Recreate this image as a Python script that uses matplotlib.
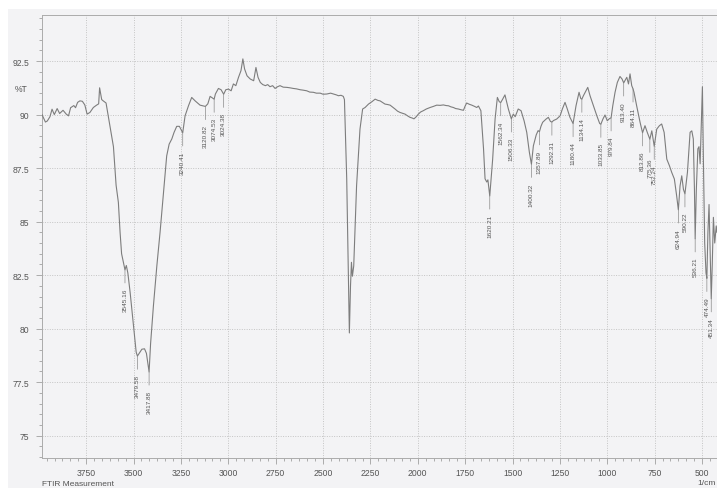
"""FTIR transmittance spectrum with labelled absorption peaks."""

import matplotlib

matplotlib.use("Agg")

import matplotlib.pyplot as plt
import numpy as np
from matplotlib.patches import Rectangle
from matplotlib.ticker import MultipleLocator


# spectrum, wavenumber (1/cm) against %T
wavenumber = [
    3983, 3965, 3955, 3941, 3930, 3918, 3903, 3890, 3872, 3855, 3843, 3832,
    3815, 3806, 3795, 3783, 3770, 3757, 3745, 3730, 3712, 3695, 3684, 3679,
    3668, 3660, 3645, 3625, 3606, 3592, 3580, 3571, 3563, 3556, 3545.16, 3538,
    3530, 3518, 3500, 3486, 3479.58, 3470, 3456, 3442, 3432, 3417.88, 3410,
    3395, 3377, 3360, 3342, 3325, 3312, 3298, 3286, 3272, 3258, 3240.41, 3228,
    3210, 3193, 3175, 3149, 3120.82, 3108, 3096, 3074.53, 3068, 3052, 3038,
    3024.38, 3013, 2999, 2985, 2973, 2960, 2946, 2933, 2923, 2914, 2901, 2884,
    2866, 2854, 2843, 2831, 2818, 2804, 2792, 2780, 2766, 2753, 2740, 2727,
    2710, 2691, 2675, 2657, 2640, 2621, 2605, 2586, 2570, 2551, 2535, 2515,
    2500, 2480, 2460, 2445, 2430, 2419, 2405, 2393, 2387, 2375, 2366, 2361,
    2355, 2350, 2345, 2338, 2323, 2305, 2291, 2278, 2260, 2242, 2225, 2210,
    2199, 2185, 2173, 2160, 2146, 2133, 2120, 2107, 2094, 2080, 2067, 2054,
    2041, 2030, 2020, 2008, 1997, 1985, 1971, 1955, 1935, 1918, 1900, 1882,
    1865, 1850, 1838, 1825, 1812, 1800, 1786, 1770, 1759, 1750, 1742, 1728,
    1715, 1700, 1689, 1680, 1667, 1653, 1645, 1636, 1630, 1620.21, 1605, 1592,
    1580, 1570, 1562.34, 1552, 1540, 1522, 1506.33, 1496, 1486, 1470, 1455,
    1439, 1425, 1411, 1400.32, 1390, 1375, 1365, 1357.89, 1350, 1341, 1323,
    1311, 1300, 1292.31, 1284, 1267, 1249, 1237, 1223, 1211, 1197, 1180.44,
    1165, 1149, 1140, 1134.14, 1126, 1103, 1091, 1073, 1055, 1040, 1033.85,
    1023, 1012, 1000, 990, 979.84, 971, 959, 947, 933, 922, 913.40, 897, 888,
    880, 871, 864.11, 859, 845, 827, 813.86, 801, 789, 775.36, 765, 752.24,
    739, 725, 713, 700, 686, 672, 660, 646, 634, 624.94, 616, 607, 598, 590.22,
    577, 563, 554, 546, 540, 536.21, 530, 522, 516, 510, 504, 498, 493, 486,
    479, 474.49, 469, 463, 457, 451.34, 446, 440, 433, 425, 421,
]
transmittance = [
    90.00, 89.65, 89.70, 89.90, 90.25, 90.00, 90.28, 90.05, 90.20, 90.02,
    89.94, 90.32, 90.42, 90.32, 90.57, 90.64, 90.62, 90.45, 90.02, 90.10,
    90.33, 90.44, 90.50, 91.25, 90.70, 90.64, 90.54, 89.50, 88.50, 86.70,
    85.90, 84.50, 83.50, 83.20, 82.75, 82.95, 82.60, 81.70, 80.10, 78.90,
    78.72, 78.85, 79.04, 79.06, 78.85, 77.98, 79.30, 81.07, 82.93, 84.50,
    86.36, 88.07, 88.62, 88.86, 89.17, 89.45, 89.45, 89.15, 89.94, 90.41,
    90.80, 90.64, 90.44, 90.38, 90.50, 90.85, 90.72, 90.96, 91.22, 91.16,
    90.95, 91.16, 91.19, 91.11, 91.43, 91.35, 91.74, 92.05, 92.60, 92.13,
    91.81, 91.66, 91.58, 92.20, 91.74, 91.50, 91.40, 91.35, 91.40, 91.30,
    91.35, 91.22, 91.30, 91.35, 91.28, 91.27, 91.25, 91.22, 91.20, 91.16,
    91.14, 91.11, 91.05, 91.04, 91.00, 91.00, 90.95, 90.96, 91.00, 90.96,
    90.92, 90.88, 90.90, 90.85, 90.70, 87.00, 82.30, 79.80, 82.00, 83.10,
    82.45, 82.93, 86.67, 89.32, 90.26, 90.33, 90.49, 90.60, 90.72, 90.66,
    90.64, 90.56, 90.49, 90.47, 90.44, 90.35, 90.26, 90.16, 90.10, 90.06,
    90.02, 89.94, 89.87, 89.84, 89.80, 89.90, 90.02, 90.12, 90.18, 90.26,
    90.33, 90.38, 90.44, 90.43, 90.45, 90.42, 90.41, 90.36, 90.33, 90.28,
    90.26, 90.22, 90.20, 90.40, 90.54, 90.48, 90.44, 90.38, 90.33, 90.40,
    90.18, 88.40, 87.00, 86.85, 86.95, 86.20, 87.90, 89.80, 90.80, 90.60,
    90.56, 90.72, 90.92, 90.26, 89.80, 90.02, 89.90, 90.26, 90.18, 89.71,
    89.17, 88.23, 87.68, 88.54, 89.05, 89.25, 89.20, 89.45, 89.64, 89.79,
    89.87, 89.68, 89.65, 89.72, 89.79, 89.94, 90.26, 90.57, 90.26, 89.87,
    89.58, 90.41, 91.04, 90.75, 90.72, 90.88, 91.27, 90.88, 90.41, 89.94,
    89.58, 89.55, 89.79, 89.98, 89.71, 89.80, 89.85, 90.41, 91.04, 91.50,
    91.78, 91.66, 91.48, 91.74, 91.43, 91.90, 91.35, 91.20, 91.04, 90.41,
    89.64, 89.15, 89.48, 89.17, 88.85, 89.24, 88.52, 89.32, 89.48, 89.56,
    89.17, 87.92, 87.61, 87.30, 86.99, 86.21, 85.55, 86.67, 87.14, 86.50,
    86.30, 87.30, 89.17, 89.24, 88.86, 86.50, 84.20, 86.50, 88.40, 88.50,
    87.70, 89.50, 91.30, 88.00, 84.00, 82.60, 82.35, 84.50, 85.80, 83.50,
    81.40, 83.00, 85.20, 84.00, 84.80, 84.50,
]

# picked peaks (1/cm)
peak_positions = [
    3545.16, 3479.58, 3417.88, 3240.41, 3120.82, 3074.53, 3024.38, 1620.21,
    1562.34, 1506.33, 1400.32, 1357.89, 1292.31, 1180.44, 1134.14, 1033.85,
    979.84, 913.40, 864.11, 813.86, 775.36, 752.24, 624.94, 590.22, 536.21,
    474.49, 451.34,
]

PAPER = "#f3f3f5"
TRACE = "#7d7d7d"
TEXT = "#555555"


def main() -> None:
    plt.rcParams["font.family"] = ["Liberation Sans", "DejaVu Sans"]

    fig = plt.figure(figsize=(7.17, 4.89), dpi=100, facecolor="white")
    # scanned sheet sits slightly inside the white border
    fig.patches.append(
        Rectangle((8 / 717, 0), 1, 1 - 10 / 489, transform=fig.transFigure,
                  facecolor=PAPER, edgecolor="none", zorder=-1)
    )

    ax = fig.add_axes([42 / 717, 1 - 459 / 489, 1 - 42 / 717, (459 - 16) / 489])
    ax.set_facecolor(PAPER)

    wn = np.array(wavenumber)
    t = np.array(transmittance)
    ax.plot(wn, t, color=TRACE, linewidth=0.8, zorder=3)

    ax.set_xlim(3983, 421)
    ax.set_ylim(73.96, 94.65)

    ax.xaxis.set_major_locator(MultipleLocator(250))
    ax.xaxis.set_minor_locator(MultipleLocator(250 / 6))
    ax.yaxis.set_major_locator(MultipleLocator(2.5))
    ax.yaxis.set_minor_locator(MultipleLocator(0.5))
    ax.yaxis.set_major_formatter(lambda v, pos: f"{v:g}")

    ax.grid(True, which="major", color="#c4c4c4", linewidth=0.7,
            linestyle=(0, (1, 1.5)), zorder=1)
    ax.tick_params(which="both", direction="out", colors="#a0a0a0",
                   labelcolor=TEXT, labelsize=6.2, width=0.6)
    ax.tick_params(which="major", length=4)
    ax.tick_params(which="minor", length=2.5)
    ax.tick_params(axis="x", pad=3)
    ax.tick_params(axis="y", pad=5)
    for side in ["left", "top", "bottom", "right"]:
        ax.spines[side].set_color("#ababab")
        ax.spines[side].set_linewidth(0.7)

    ax.text(-0.0215, 91.2, "%T", transform=ax.get_yaxis_transform(),
            ha="right", va="center", fontsize=6.2, color=TEXT)

    # peak labels hang below each minimum on a short leader
    for peak in peak_positions:
        depth = np.interp(peak, wn[::-1], t[::-1])
        ax.annotate(
            f"{peak:.2f}", xy=(peak, depth), xytext=(0, -13),
            textcoords="offset points", rotation=90, ha="center", va="top",
            fontsize=4.6, color="#555555",
            arrowprops=dict(arrowstyle="-", color="#8a8a8a", linewidth=0.5,
                            shrinkA=1.5, shrinkB=0),
            zorder=4,
        )

    fig.text(42 / 717, 1 - 485 / 489, "FTIR Measurement", ha="left",
             va="center", fontsize=6, color=TEXT)
    fig.text(716 / 717, 1 - 484 / 489, "1/cm", ha="right", va="center",
             fontsize=6, color=TEXT)

    fig.savefig("out.png", dpi=100, facecolor=fig.get_facecolor())
    plt.close(fig)


if __name__ == "__main__":
    main()
